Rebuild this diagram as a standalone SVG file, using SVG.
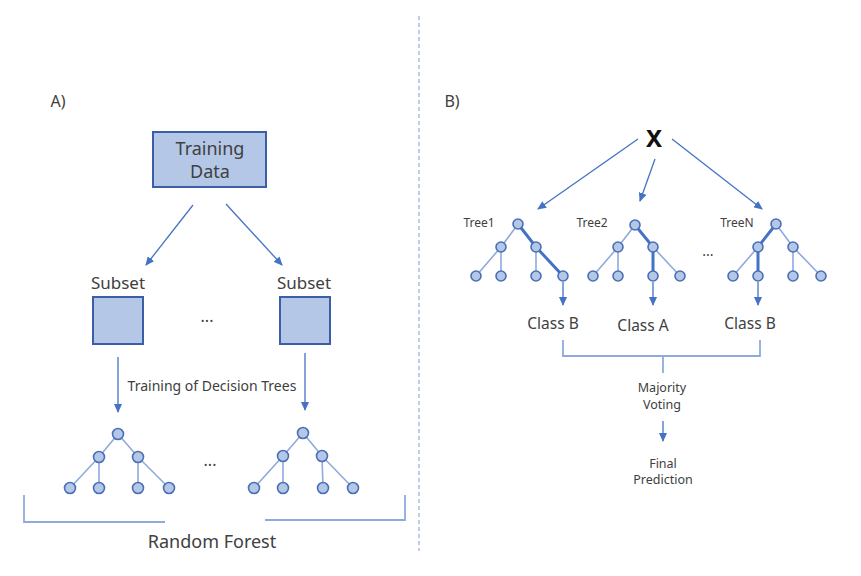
<svg xmlns="http://www.w3.org/2000/svg" width="861" height="576" viewBox="0 0 861 576">
<defs>
<marker id="ah" markerUnits="userSpaceOnUse" markerWidth="9" markerHeight="8" refX="8" refY="4" orient="auto">
<path d="M0,0 L9,4 L0,8 Z" fill="#4472c4"/>
</marker>
<style>
.t{font-family:"Noto Sans","Open Sans",sans-serif;fill:#404040;text-anchor:middle}
.box{fill:#b4c7e7;stroke:#3b5ea6;stroke-width:2}
.arr{stroke:#4472c4;stroke-width:1.3;fill:none;marker-end:url(#ah)}
.br{stroke:#8faadc;stroke-width:1.8;fill:none}
.e{stroke:#8faadc;stroke-width:1.6;fill:none}
.eb{stroke:#4472c4;stroke-width:3;fill:none}
.n{fill:#b4c7e7;stroke:#4a6fb5;stroke-width:1.6}
</style>
</defs>
<rect width="861" height="576" fill="#ffffff"/>
<line x1="419" y1="16" x2="419" y2="551" stroke="#a9bde3" stroke-width="1.5" stroke-dasharray="4,3"/>

<text class="t" x="58" y="107" font-size="16">A)</text>
<text class="t" x="452" y="107" font-size="16">B)</text>

<g id="training-data">
<rect class="box" x="153" y="132" width="113" height="55"/>
<text class="t" x="210" y="155" font-size="18">Training</text>
<text class="t" x="210" y="178" font-size="18">Data</text>
</g>
<g id="subset-left">
<text class="t" x="118" y="289" font-size="17">Subset</text>
<rect class="box" x="93" y="297" width="50" height="47"/>
</g>
<g id="subset-right">
<text class="t" x="304" y="289" font-size="17">Subset</text>
<rect class="box" x="280" y="297" width="50" height="47"/>
</g>
<text class="t" x="207" y="322" font-size="16">...</text>
<text class="t" x="212" y="391" font-size="14">Training of Decision Trees</text>

<g id="connectors">
<line class="arr" x1="193" y1="205" x2="146" y2="265"/>
<line class="arr" x1="226" y1="204" x2="282" y2="265"/>
<line class="arr" x1="118" y1="357" x2="118" y2="412"/>
<line class="arr" x1="305" y1="353" x2="305" y2="410"/>
<line class="arr" x1="638" y1="139" x2="538" y2="209"/>
<line class="arr" x1="655" y1="159" x2="640" y2="201"/>
<line class="arr" x1="672" y1="139" x2="762" y2="209"/>
<line class="arr" x1="563" y1="282" x2="563" y2="305"/>
<line class="arr" x1="653" y1="282" x2="653" y2="305"/>
<line class="arr" x1="758" y1="282" x2="758" y2="305"/>
<line class="arr" x1="663" y1="421" x2="663" y2="441"/>
<path class="br" d="M563,340 V356 H760 V340 M663,356 V373"/>
<path class="br" d="M24,495 V522 H165 M265,520 H405 V495"/>
</g>

<g id="forest-tree-left">
<path class="e" d="M118,434 L99,457 M118,434 L138,457 M99,457 L70,488 M99,457 L99,488 M138,457 L138,488 M138,457 L169,488"/>
<circle class="n" cx="118" cy="434" r="5.5"/>
<circle class="n" cx="99" cy="457" r="5.5"/>
<circle class="n" cx="138" cy="457" r="5.5"/>
<circle class="n" cx="70" cy="488" r="5.5"/>
<circle class="n" cx="99" cy="488" r="5.5"/>
<circle class="n" cx="138" cy="488" r="5.5"/>
<circle class="n" cx="169" cy="488" r="5.5"/>
</g>
<text class="t" x="210" y="466" font-size="16">...</text>
<g id="forest-tree-right">
<path class="e" d="M303,433 L283,456 M303,433 L322,456 M283,456 L254,488 M283,456 L283,488 M322,456 L323,488 M322,456 L353,488"/>
<circle class="n" cx="303" cy="433" r="5.5"/>
<circle class="n" cx="283" cy="456" r="5.5"/>
<circle class="n" cx="322" cy="456" r="5.5"/>
<circle class="n" cx="254" cy="488" r="5.5"/>
<circle class="n" cx="283" cy="488" r="5.5"/>
<circle class="n" cx="323" cy="488" r="5.5"/>
<circle class="n" cx="353" cy="488" r="5.5"/>
</g>
<text class="t" x="212" y="548" font-size="18">Random Forest</text>

<g id="x-input">
<text class="t" x="654" y="147" font-size="24" font-weight="bold" style="fill:#111">X</text>
</g>

<g id="tree1">
<text class="t" x="479" y="227" font-size="12">Tree1</text>
<path class="e" d="M518,224 L501,247 M536,247 L536,276 M501,247 L476,276 M501,247 L501,276"/>
<path class="eb" d="M518,224 L536,247 L563,276"/>
<circle class="n" cx="518" cy="224" r="5"/>
<circle class="n" cx="501" cy="247" r="5"/>
<circle class="n" cx="536" cy="247" r="5"/>
<circle class="n" cx="476" cy="276" r="5"/>
<circle class="n" cx="501" cy="276" r="5"/>
<circle class="n" cx="536" cy="276" r="5"/>
<circle class="n" cx="563" cy="276" r="5"/>
<text class="t" x="553" y="329" font-size="15.5">Class B</text>
</g>
<g id="tree2">
<text class="t" x="592" y="227" font-size="12">Tree2</text>
<path class="e" d="M635,225 L618,247 M618,247 L593,276 M618,247 L618,276 M653,247 L680,276"/>
<path class="eb" d="M635,225 L653,247 L653,276"/>
<circle class="n" cx="635" cy="225" r="5"/>
<circle class="n" cx="618" cy="247" r="5"/>
<circle class="n" cx="653" cy="247" r="5"/>
<circle class="n" cx="593" cy="276" r="5"/>
<circle class="n" cx="618" cy="276" r="5"/>
<circle class="n" cx="653" cy="276" r="5"/>
<circle class="n" cx="680" cy="276" r="5"/>
<text class="t" x="643" y="331" font-size="15.5">Class A</text>
</g>
<text class="t" x="708" y="256" font-size="14">...</text>
<g id="treeN">
<text class="t" x="737" y="227" font-size="12">TreeN</text>
<path class="e" d="M776,224 L793,247 M758,247 L733,276 M793,247 L793,276 M793,247 L821,276"/>
<path class="eb" d="M776,224 L758,247 L758,276"/>
<circle class="n" cx="776" cy="224" r="5"/>
<circle class="n" cx="758" cy="247" r="5"/>
<circle class="n" cx="793" cy="247" r="5"/>
<circle class="n" cx="733" cy="276" r="5"/>
<circle class="n" cx="758" cy="276" r="5"/>
<circle class="n" cx="793" cy="276" r="5"/>
<circle class="n" cx="821" cy="276" r="5"/>
<text class="t" x="750" y="329" font-size="15.5">Class B</text>
</g>

<g id="majority-voting">
<text class="t" x="662" y="392" font-size="12.5">Majority</text>
<text class="t" x="662" y="409" font-size="12.5">Voting</text>
</g>
<g id="final-prediction">
<text class="t" x="663" y="468" font-size="12.5">Final</text>
<text class="t" x="663" y="484" font-size="12.5">Prediction</text>
</g>
</svg>
